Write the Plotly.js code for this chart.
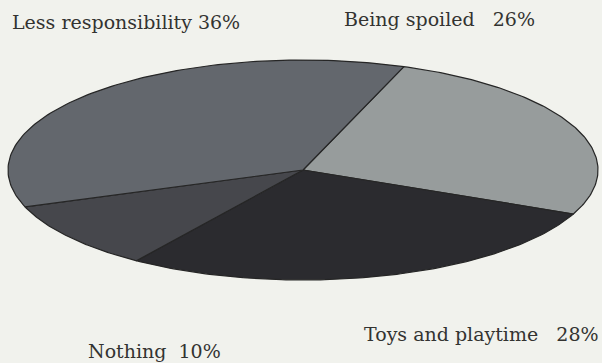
<!DOCTYPE html>
<html>
<head>
<meta charset="utf-8">
<script src="https://cdn.plot.ly/plotly-3.0.1.min.js"></script>
<style>
  html, body { margin: 0; padding: 0; background: #f1f2ed; }
  #chart { width: 602px; height: 363px; }
</style>
</head>
<body>
<div id="chart"></div>
<script>
// Data (clockwise order starting at the top boundary)
const labels = ["Being spoiled", "Toys and playtime", "Nothing", "Less responsibility"];
const values = [26, 28, 10, 36];
const colors = ["#979c9c", "#2b2b2f", "#46474c", "#63676d"];

// Geometry / layout settings
const startAngle = 70;      // degrees, first boundary (top)
const W = 602, H = 363;
const cxPx = 303, cyPx = 170, rxPx = 295, ryPx = 110;

const total = values.reduce((a, b) => a + b, 0);
const traces = [];
let ang = startAngle;
values.forEach((v, i) => {
  const sweep = v / total * 360;
  const a0 = ang, a1 = ang - sweep; // clockwise
  const xs = [0], ys = [0];
  const n = 120;
  for (let k = 0; k <= n; k++) {
    const t = (a0 + (a1 - a0) * k / n) * Math.PI / 180;
    xs.push(Math.cos(t));
    ys.push(Math.sin(t));
  }
  xs.push(0); ys.push(0);
  traces.push({
    type: "scatter", mode: "lines", x: xs, y: ys,
    fill: "toself", fillcolor: colors[i],
    line: { color: "#262626", width: 1.2 },
    hoverinfo: "skip", name: labels[i]
  });
  ang = a1;
});

const xmin = -cxPx / rxPx, xmax = (W - cxPx) / rxPx;
const ymax = cyPx / ryPx, ymin = -(H - cyPx) / ryPx;

const font = { family: "DejaVu Serif", size: 19, color: "#333331" };
const labelPos = {
  "Less responsibility": { x: 11, y: 22, anchor: "left", gap: " " },
  "Being spoiled": { x: 343, y: 19, anchor: "left", gap: "\u00A0\u00A0 " },
  "Toys and playtime": { x: 600, y: 334, anchor: "right", gap: "\u00A0\u00A0 " },
  "Nothing": { x: 87, y: 351, anchor: "left", gap: "\u00A0 " }
};
const annotations = labels.map((lab, i) => {
  const p = labelPos[lab];
  return {
    xref: "paper", yref: "paper",
    x: p.x / W, y: 1 - p.y / H,
    xanchor: p.anchor, yanchor: "middle",
    text: lab + p.gap + values[i] + "%",
    showarrow: false, font: font, borderpad: 0
  };
});

const layout = {
  width: W, height: H,
  margin: { l: 0, r: 0, t: 0, b: 0 },
  paper_bgcolor: "#f1f2ed", plot_bgcolor: "#f1f2ed",
  showlegend: false,
  xaxis: { range: [xmin, xmax], visible: false, fixedrange: true },
  yaxis: { range: [ymin, ymax], visible: false, fixedrange: true },
  annotations: annotations
};

Plotly.newPlot("chart", traces, layout, { staticPlot: true, displayModeBar: false });
</script>
</body>
</html>
